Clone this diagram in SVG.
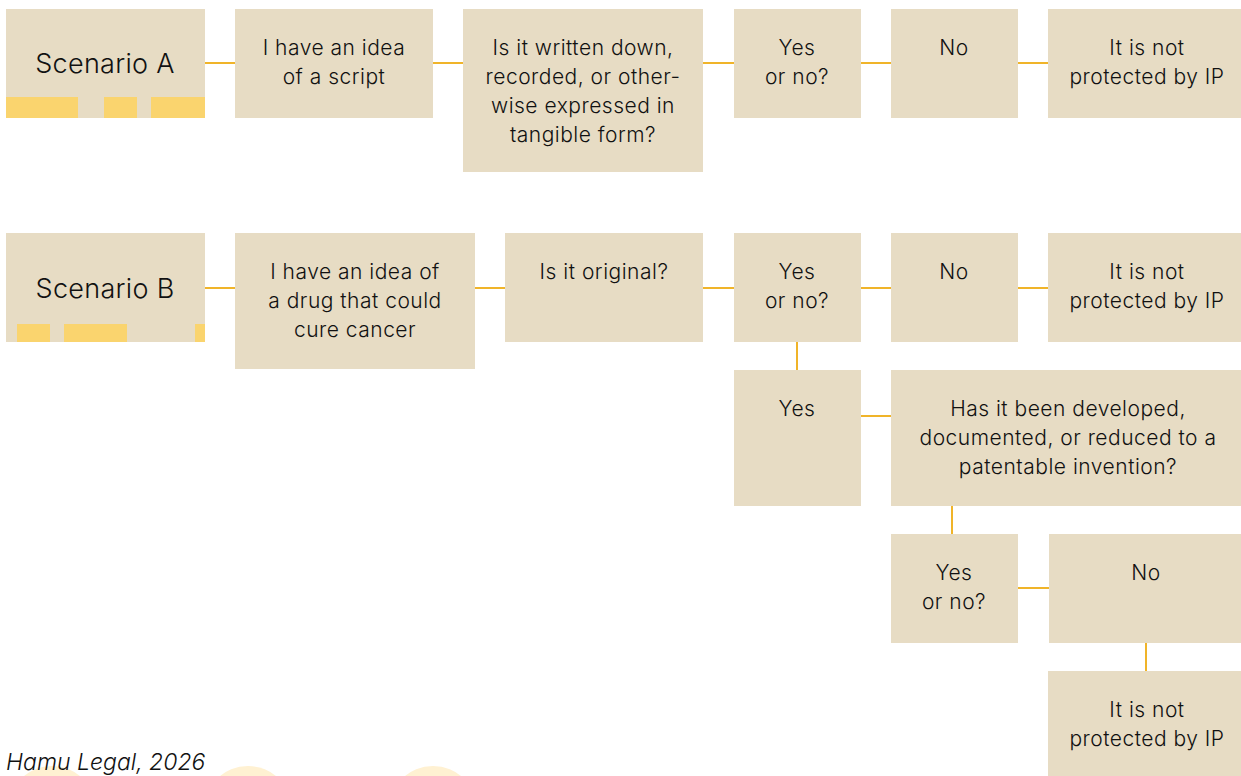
<svg xmlns="http://www.w3.org/2000/svg" width="1241" height="776" viewBox="0 0 1241 776">
<style>
.box{fill:#E7DCC4}
.bar{fill:#FAD46E}
.t{font-family:Inter,"Liberation Sans",sans-serif;font-size:21px;font-weight:300;letter-spacing:0.5px;fill:#111;text-anchor:middle}
.big{font-size:27px;letter-spacing:0.3px}
.c{stroke:#F0B429;stroke-width:2;fill:none}
.deco{fill:#FFF1D2}
</style>
<rect width="1241" height="776" fill="#fff"/>
<g id="deco">
<circle class="deco" cx="52" cy="810" r="44"/>
<circle class="deco" cx="248" cy="810" r="44"/>
<circle class="deco" cx="433" cy="810" r="44"/>
</g>
<g id="connectors">
<line class="c" x1="205" y1="63" x2="235" y2="63"/>
<line class="c" x1="433" y1="63" x2="463" y2="63"/>
<line class="c" x1="703" y1="63" x2="734" y2="63"/>
<line class="c" x1="861" y1="63" x2="891" y2="63"/>
<line class="c" x1="1018" y1="63" x2="1048" y2="63"/>
<line class="c" x1="205" y1="288" x2="235" y2="288"/>
<line class="c" x1="475" y1="288" x2="505" y2="288"/>
<line class="c" x1="703" y1="288" x2="734" y2="288"/>
<line class="c" x1="861" y1="288" x2="891" y2="288"/>
<line class="c" x1="1018" y1="288" x2="1048" y2="288"/>
<line class="c" x1="797" y1="342" x2="797" y2="370"/>
<line class="c" x1="861" y1="416" x2="891" y2="416"/>
<line class="c" x1="952" y1="506" x2="952" y2="534"/>
<line class="c" x1="1018" y1="588" x2="1049" y2="588"/>
<line class="c" x1="1146" y1="643" x2="1146" y2="671"/>
</g>
<g id="scenarioA">
<rect class="box" x="6" y="9" width="199" height="109"/>
<rect class="bar" x="6" y="97" width="72" height="21"/>
<rect class="bar" x="104" y="97" width="33" height="21"/>
<rect class="bar" x="151" y="97" width="54" height="21"/>
<text class="t big" x="105" y="73">Scenario A</text>
</g>
<g id="a2">
<rect class="box" x="235" y="9" width="198" height="109"/>
<text class="t" x="334" y="55">I have an idea</text>
<text class="t" x="334" y="84">of a script</text>
</g>
<g id="a3">
<rect class="box" x="463" y="9" width="240" height="163"/>
<text class="t" x="583" y="55">Is it written down,</text>
<text class="t" x="583" y="84">recorded, or other-</text>
<text class="t" x="583" y="113">wise expressed in</text>
<text class="t" x="583" y="142">tangible form?</text>
</g>
<g id="a4">
<rect class="box" x="734" y="9" width="127" height="109"/>
<text class="t" x="797" y="55">Yes</text>
<text class="t" x="797" y="84">or no?</text>
</g>
<g id="a5">
<rect class="box" x="891" y="9" width="127" height="109"/>
<text class="t" x="954" y="55">No</text>
</g>
<g id="a6">
<rect class="box" x="1048" y="9" width="193" height="109"/>
<text class="t" x="1147" y="55">It is not</text>
<text class="t" x="1147" y="84">protected by IP</text>
</g>
<g id="scenarioB">
<rect class="box" x="6" y="233" width="199" height="109"/>
<rect class="bar" x="17" y="324" width="33" height="18"/>
<rect class="bar" x="64" y="324" width="63" height="18"/>
<rect class="bar" x="195" y="324" width="10" height="18"/>
<text class="t big" x="105" y="298">Scenario B</text>
</g>
<g id="b2">
<rect class="box" x="235" y="233" width="240" height="136"/>
<text class="t" x="355" y="279">I have an idea of</text>
<text class="t" x="355" y="308">a drug that could</text>
<text class="t" x="355" y="337">cure cancer</text>
</g>
<g id="b3">
<rect class="box" x="505" y="233" width="198" height="109"/>
<text class="t" x="604" y="279">Is it original?</text>
</g>
<g id="b4">
<rect class="box" x="734" y="233" width="127" height="109"/>
<text class="t" x="797" y="279">Yes</text>
<text class="t" x="797" y="308">or no?</text>
</g>
<g id="b5">
<rect class="box" x="891" y="233" width="127" height="109"/>
<text class="t" x="954" y="279">No</text>
</g>
<g id="b6">
<rect class="box" x="1048" y="233" width="193" height="109"/>
<text class="t" x="1147" y="279">It is not</text>
<text class="t" x="1147" y="308">protected by IP</text>
</g>
<g id="b7">
<rect class="box" x="734" y="370" width="127" height="136"/>
<text class="t" x="797" y="416">Yes</text>
</g>
<g id="b8">
<rect class="box" x="891" y="370" width="350" height="136"/>
<text class="t" x="1068" y="416">Has it been developed,</text>
<text class="t" x="1068" y="445">documented, or reduced to a</text>
<text class="t" x="1068" y="474">patentable invention?</text>
</g>
<g id="b9">
<rect class="box" x="891" y="534" width="127" height="109"/>
<text class="t" x="954" y="580">Yes</text>
<text class="t" x="954" y="609">or no?</text>
</g>
<g id="b10">
<rect class="box" x="1049" y="534" width="192" height="109"/>
<text class="t" x="1146" y="580">No</text>
</g>
<g id="b11">
<rect class="box" x="1048" y="671" width="193" height="105"/>
<text class="t" x="1147" y="717">It is not</text>
<text class="t" x="1147" y="746">protected by IP</text>
</g>
<text x="6" y="770" font-family="Inter,'Liberation Sans',sans-serif" font-size="23" font-weight="300" font-style="italic" fill="#111">Hamu Legal, 2026</text>
</svg>
